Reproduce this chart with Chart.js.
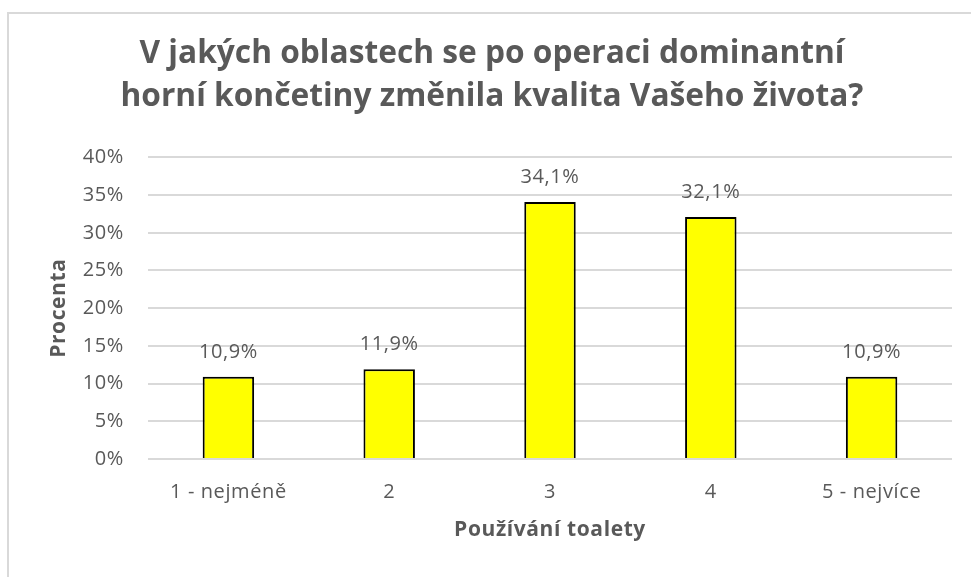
<!DOCTYPE html>
<html>
<head>
<meta charset="utf-8">
<script src="https://cdn.jsdelivr.net/npm/chart.js@4"></script>
<style>
  html, body { margin: 0; padding: 0; background: #fff; }
  #wrap { position: relative; width: 971px; height: 577px; overflow: hidden; }
  #frame { position: absolute; left: 7px; top: 12px; width: 2000px; height: 2000px;
           border-left: 2px solid #d9d9d9; border-top: 2px solid #d9d9d9; }
  canvas { position: absolute; left: 0; top: 0; }
</style>
</head>
<body>
<div id="wrap">
  <div id="frame"></div>
  <canvas id="c" width="971" height="577"></canvas>
</div>
<script>
const titleLines = ["V jakých oblastech se po operaci dominantní", "horní končetiny změnila kvalita Vašeho života?"];
const categories = ["1 - nejméně", "2", "3", "4", "5 - nejvíce"];
const values = [10.9, 11.9, 34.1, 32.1, 10.9];
const valueLabels = ["10,9%", "11,9%", "34,1%", "32,1%", "10,9%"];
const yTicks = [0, 5, 10, 15, 20, 25, 30, 35, 40];
const xTitle = "Používání toalety";
const yTitle = "Procenta";

const FONT = "'Open Sans', 'Liberation Sans', sans-serif";
const GREY = "#595959";

const spacingPlugin = {
  id: 'spacing',
  beforeDraw(chart) {
    chart.ctx.letterSpacing = '0.6px';
  },
  afterLayout(chart) {
    const tb = chart.titleBlock;
    if (tb && !tb._wrapped) {
      const orig = tb.draw.bind(tb);
      tb.draw = function () {
        const ctx = chart.ctx;
        ctx.save();
        ctx.letterSpacing = '0px';
        ctx.translate(16, 0);
        orig();
        ctx.restore();
      };
      tb._wrapped = true;
    }
  }
};

const dataLabels = {
  id: 'dataLabels',
  afterDatasetsDraw(chart) {
    const ctx = chart.ctx;
    const meta = chart.getDatasetMeta(0);
    ctx.save();
    ctx.font = "20px " + FONT;
    ctx.fillStyle = GREY;
    ctx.textAlign = 'center';
    ctx.textBaseline = 'middle';
    meta.data.forEach((bar, i) => {
      ctx.fillText(valueLabels[i], bar.x, bar.y - 25);
    });
    ctx.restore();
  }
};

new Chart(document.getElementById('c'), {
  type: 'bar',
  data: {
    labels: categories,
    datasets: [{
      data: values,
      backgroundColor: '#ffff00',
      borderColor: '#000000',
      borderWidth: 2,
      barPercentage: 0.32,
      categoryPercentage: 1.0
    }]
  },
  options: {
    responsive: false,
    animation: false,
    devicePixelRatio: 1,
    layout: { padding: { left: 0, right: 19, top: 0, bottom: 0 } },
    plugins: {
      legend: { display: false },
      tooltip: { enabled: false },
      title: {
        display: true,
        text: titleLines,
        color: GREY,
        font: { family: FONT, size: 31.7, weight: 'bold', lineHeight: 1.347 },
        padding: { top: 33, bottom: 39 }
      }
    },
    scales: {
      x: {
        grid: { display: false, drawTicks: false },
        border: { display: false },
        ticks: { color: GREY, font: { family: FONT, size: 20 }, padding: 21, maxRotation: 0 },
        title: { display: true, text: xTitle, color: GREY,
                 font: { family: FONT, size: 21, weight: 'bold' }, padding: { top: 0, bottom: 34 } },
        afterFit(scale) { scale.height = 118; }
      },
      y: {
        min: 0, max: 40,
        afterBuildTicks(scale) { scale.ticks = yTicks.map(v => ({ value: v })); },
        grid: { color: '#d9d9d9', lineWidth: 2, drawTicks: false },
        border: { display: false },
        ticks: { color: GREY, font: { family: FONT, size: 20 }, padding: 24,
                 callback: (v) => v + '%' },
        title: { display: true, text: yTitle, color: GREY,
                 font: { family: FONT, size: 21, weight: 'bold' }, padding: { top: 46, bottom: 0 } },
        afterFit(scale) { scale.width = 148; }
      }
    }
  },
  plugins: [spacingPlugin, dataLabels]
});
</script>
</body>
</html>
